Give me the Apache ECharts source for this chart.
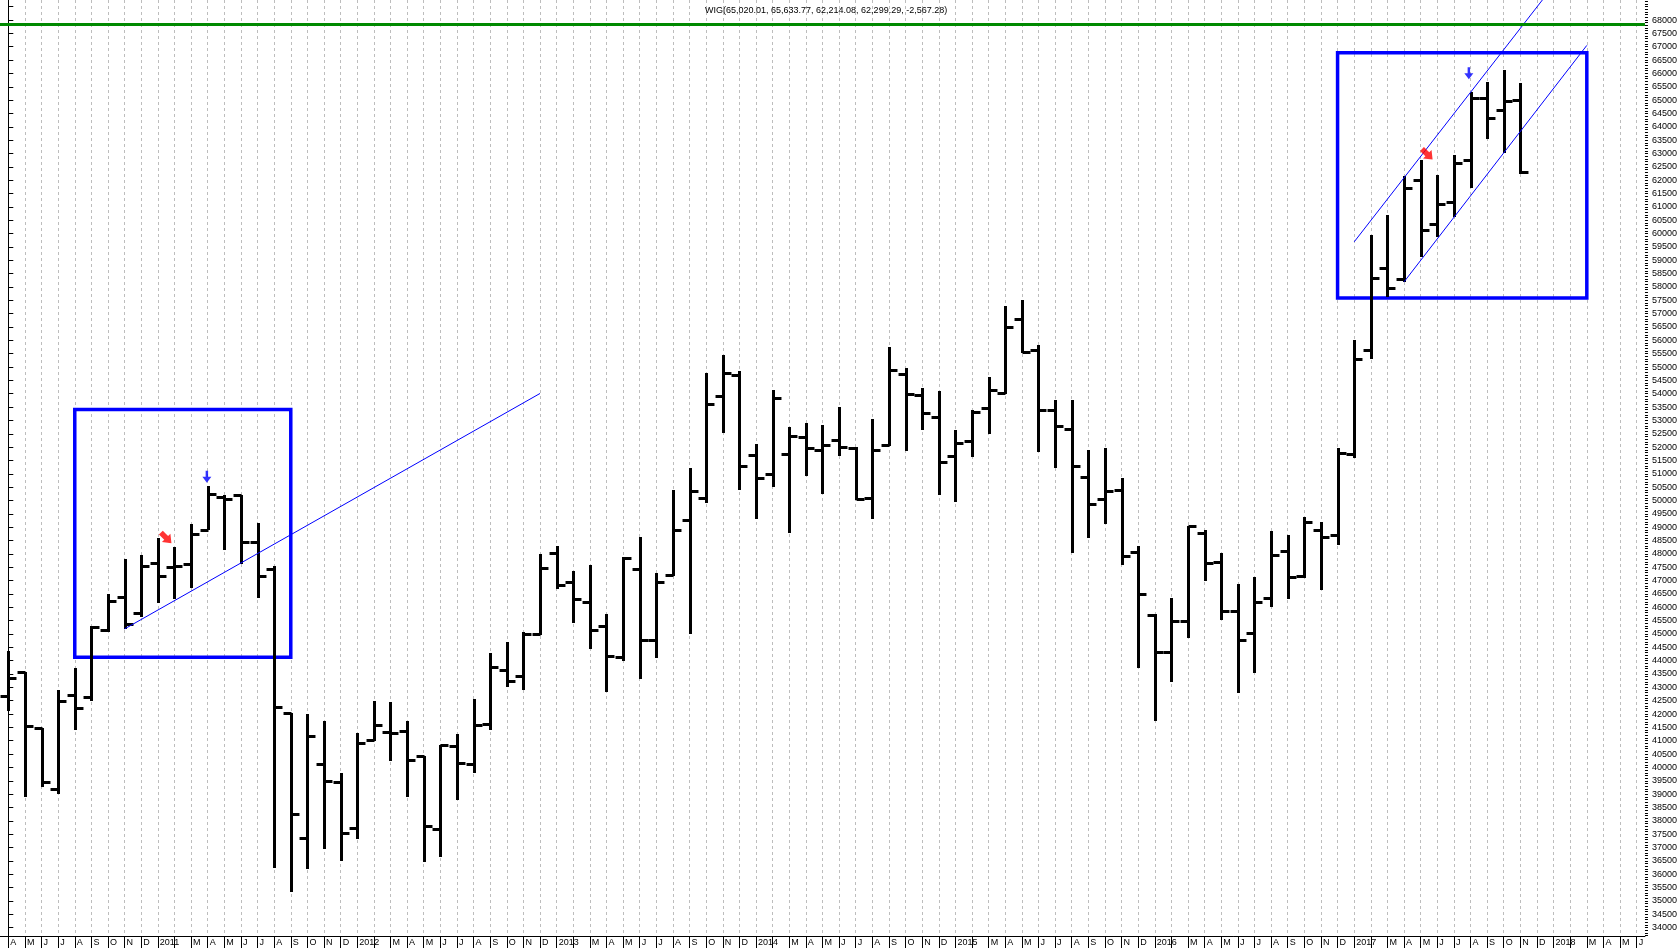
<!DOCTYPE html>
<html>
<head>
<meta charset="utf-8">
<title>WIG monthly</title>
<script src="https://cdn.jsdelivr.net/npm/echarts@6/dist/echarts.min.js"></script>
<style>
  html, body { margin: 0; padding: 0; background: #fff; }
  #chart { width: 1680px; height: 948px; }
</style>
</head>
<body>
<div id="chart"></div>
<script>
  // monthly OHLC, index 0 = April 2010
  var opens = [42690, 43560, 41460, 39190, 42725, 42625, 45150, 46375, 45775, 47660,
    47500, 47625, 48910, 50125, 50190, 48440, 47440, 42025, 37375, 40125,
    39440, 37725, 41040, 41310, 41350, 40440, 37690, 40790, 40125, 41625,
    43650, 43440, 45000, 48040, 46940, 46190, 45290, 44125, 47440, 44775,
    47210, 49275, 50100, 53910, 54690, 51710, 50975, 51750, 52375, 51875,
    52250, 51970, 50100, 52090, 54750, 53960, 53125, 51660, 52225, 53460,
    54025, 56810, 55650, 53375, 52690, 50875, 50060, 50375, 48080, 45725,
    44310, 45475, 48790, 47710, 45875, 45025, 46350, 48090, 47190, 48900,
    48710, 51750, 55650, 58725, 58310, 62000, 60375, 61190, 62750, 65060,
    64625, 65020];
  var highs = [44375, 43560, 41460, 42900, 43725, 45290, 46500, 47810, 47960, 48590,
    48250, 49125, 50560, 50210, 50210, 49160, 47540, 42025, 42000, 41750,
    39810, 41275, 42475, 42440, 41725, 40440, 40850, 41250, 42560, 44275,
    44690, 45060, 48000, 48290, 47360, 47590, 45750, 47875, 48625, 47275,
    50400, 51210, 54775, 55460, 54850, 52125, 54150, 52750, 52910, 52810,
    53500, 52000, 53060, 55750, 54960, 54210, 54100, 52650, 53375, 54625,
    57275, 57525, 55840, 53750, 53750, 51910, 51975, 50850, 48300, 45750,
    46340, 49060, 48910, 48025, 46875, 47125, 48840, 48710, 49375, 49210,
    51975, 56000, 59940, 60710, 62160, 62750, 62190, 62940, 65310, 65690,
    66125, 65634];
  var lows = [42125, 38875, 39250, 39000, 41410, 42500, 45060, 45190, 45625, 46150,
    46310, 46710, 48910, 48150, 47625, 46340, 36250, 35330, 36190, 36940,
    36500, 37310, 41000, 40250, 38900, 36460, 36650, 38775, 39775, 41400,
    43000, 42910, 44975, 46690, 45405, 44440, 42840, 43975, 43310, 44090,
    47160, 45000, 49900, 52525, 50400, 49310, 50500, 48790, 50910, 50250,
    51650, 50000, 49310, 52060, 51840, 52650, 50190, 49960, 51625, 52500,
    53975, 55525, 51810, 51225, 48025, 48600, 49125, 47590, 43720, 41750,
    43210, 44840, 47000, 45525, 42790, 43525, 46025, 46310, 47100, 46650,
    48340, 51600, 55300, 57625, 58190, 59125, 59875, 60625, 61690, 63525,
    63000, 62214];
  var closes = [43340, 41560, 39440, 42500, 42225, 45250, 46250, 45375, 47560, 47190,
    47560, 48750, 50250, 50060, 48440, 47190, 42250, 38260, 41190, 39500,
    37560, 40910, 41590, 41290, 40275, 37810, 40840, 40150, 41590, 43775,
    43250, 45000, 47475, 46850, 46325, 45150, 44190, 47840, 44775, 46960,
    48900, 50340, 53625, 54775, 51290, 50850, 53850, 52410, 51975, 52090,
    52000, 50060, 51900, 54900, 54000, 53290, 51440, 52160, 53310, 54125,
    56500, 55560, 53375, 52790, 51310, 49875, 50350, 47910, 46500, 44310,
    45475, 49060, 47660, 45875, 44775, 46190, 47960, 47150, 49210, 48650,
    51775, 55290, 58350, 57975, 61690, 60125, 61125, 62660, 65060, 64340,
    64960, 62299];

  // axis months: April 2010 .. June 2018
  var monthLetters = ['J', 'F', 'M', 'A', 'M', 'J', 'J', 'A', 'S', 'O', 'N', 'D'];
  var startYear = 2010, startMonth = 3, monthCount = 99;

  // annotations (month index, price)
  var greenLevel = 67850;
  var leftBox = [[4, 53410], [17, 44130]];
  var rightBox = [[80, 66775], [95, 57590]];
  var leftTrend = [[7, 45190], [32, 54010]];
  var upperChannel = [[81, 59690], [93, 69290]];
  var lowerChannel = [[84, 58190], [95, 67050]];
  var redArrows = [[9.5, 48600], [85.4, 62970]];
  var blueArrows = [[11.95, 50890], [87.9, 66010]];

  var titleText = 'WIG(65,020.01, 65,633.77, 62,214.08, 62,299.29, -2,567.28)';

  var yMin = 33685, yMax = 68750;

  var monthIdx = [], xLabels = [];
  for (var k = 0; k < monthCount; k++) {
    var m = (startMonth + k) % 12;
    var y = startYear + Math.floor((startMonth + k) / 12);
    monthIdx.push(k);
    xLabels.push(m === 0 ? String(y) : (m === 1 ? '' : monthLetters[m]));
  }
  var majorTicks = [], minorTicks = [], yLabels = [];
  for (var v = 34000; v <= 68500; v += 500) majorTicks.push(v);
  for (var v2 = 33700; v2 <= 68700; v2 += 100) minorTicks.push(v2);
  yLabels = majorTicks.filter(function (t) { return t <= 68000; });

  var ohlc = opens.map(function (o, i) {
    return [i, o, highs[i], lows[i], closes[i]];
  });

  function crisp(p) { return Math.round(p) + 0.5; }

  function renderOhlc(params, api) {
    var x = api.value(0);
    var pO = api.coord([x, api.value(1)]);
    var pH = api.coord([x, api.value(2)]);
    var pL = api.coord([x, api.value(3)]);
    var pC = api.coord([x, api.value(4)]);
    var tick = api.size([1, 0])[0] * 0.48;
    var cx = crisp(pH[0]);
    var style = { stroke: '#000', lineWidth: 3 };
    return {
      type: 'group',
      children: [
        { type: 'line', shape: { x1: cx, y1: Math.round(pH[1]), x2: cx, y2: Math.round(pL[1]) }, style: style },
        { type: 'line', shape: { x1: cx - tick, y1: crisp(pO[1]), x2: cx, y2: crisp(pO[1]) }, style: style },
        { type: 'line', shape: { x1: cx, y1: crisp(pC[1]), x2: cx + tick, y2: crisp(pC[1]) }, style: style }
      ]
    };
  }

  var font = 'Liberation Sans, Arial, sans-serif';
  var arrowPath = 'path://M4,0 L7,0 L7,6 L11,6 L5.5,12 L0,6 L4,6 Z';
  var fatArrowPath = 'path://M3,0 L8,0 L8,6 L11,6 L5.5,12 L0,6 L3,6 Z';

  var option = {
    animation: false,
    backgroundColor: '#fff',
    title: {
      text: titleText,
      left: 700,
      top: 1,
      textStyle: { fontSize: 9, fontWeight: 'normal', color: '#000', fontFamily: font }
    },
    grid: { left: 0, right: 35, top: 0, bottom: 12 },
    xAxis: {
      type: 'value',
      min: -0.5,
      max: 98.5,
      axisLine: { lineStyle: { color: '#000', width: 1 } },
      axisTick: { customValues: monthIdx, length: 12, lineStyle: { color: '#000' } },
      axisLabel: {
        customValues: monthIdx,
        formatter: function (val) { return xLabels[Math.round(val)]; },
        align: 'left',
        margin: 2,
        padding: [0, 0, 0, 2],
        fontSize: 9,
        color: '#000',
        fontFamily: font
      },
      splitLine: { show: true, lineStyle: { color: '#bdbdbd', width: 1, type: [3, 3] } }
    },
    yAxis: [{
      type: 'value',
      position: 'right',
      min: yMin,
      max: yMax,
      axisLine: { show: true, lineStyle: { color: '#000' } },
      axisTick: { show: true, customValues: majorTicks, length: 5, lineStyle: { color: '#000' } },
      axisLabel: {
        customValues: yLabels,
        formatter: function (val) { return String(val); },
        margin: 7,
        fontSize: 9,
        color: '#000',
        fontFamily: font
      },
      splitLine: { show: false }
    }, {
      type: 'value',
      position: 'right',
      min: yMin,
      max: yMax,
      axisLine: { show: false },
      axisTick: { show: true, customValues: minorTicks, length: 3, lineStyle: { color: '#000' } },
      axisLabel: { show: false },
      splitLine: { show: false }
    }],
    series: [{
      type: 'custom',
      name: 'WIG',
      renderItem: renderOhlc,
      data: ohlc,
      encode: { x: 0, y: [1, 2, 3, 4] },
      z: 2,
      markLine: {
        silent: true,
        symbol: 'none',
        label: { show: false },
        lineStyle: { color: '#008a00', width: 3, type: 'solid' },
        data: [{ yAxis: greenLevel }]
      }
    }, {
      type: 'line',
      data: leftTrend,
      symbol: 'none',
      lineStyle: { color: '#0000ff', width: 1 },
      z: 4,
      markArea: {
        silent: true,
        itemStyle: { color: 'rgba(0,0,0,0)', borderColor: '#0000ff', borderWidth: 3.5 },
        label: { show: false },
        data: [
          [{ coord: leftBox[0] }, { coord: leftBox[1] }],
          [{ coord: rightBox[0] }, { coord: rightBox[1] }]
        ]
      }
    }, {
      type: 'line',
      data: upperChannel,
      symbol: 'none',
      lineStyle: { color: '#0000ff', width: 1 },
      z: 4
    }, {
      type: 'line',
      data: lowerChannel,
      symbol: 'none',
      lineStyle: { color: '#0000ff', width: 1 },
      z: 4
    }, {
      type: 'scatter',
      data: redArrows,
      symbol: fatArrowPath,
      symbolSize: [12, 15],
      symbolRotate: 45,
      itemStyle: { color: '#ff0000' },
      z: 5
    }, {
      type: 'scatter',
      data: blueArrows,
      symbol: arrowPath,
      symbolSize: [9, 12],
      itemStyle: { color: '#0000ff' },
      z: 5
    }]
  };

  var chart = echarts.init(document.getElementById('chart'));
  chart.setOption(option);
</script>
</body>
</html>
